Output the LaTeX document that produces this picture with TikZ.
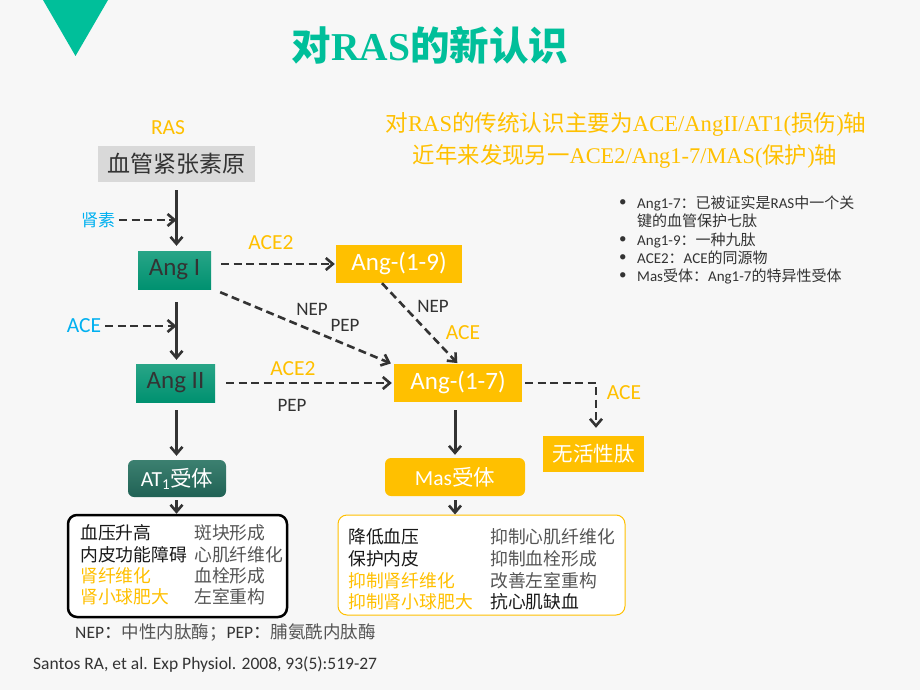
\documentclass[tikz,border=0pt]{standalone}
\usepackage{fontspec}
\setmainfont{Carlito}
\newfontfamily\zh{Noto Sans CJK SC}
\newfontfamily\sertxt{Liberation Serif}
\usetikzlibrary{arrows.meta}
\definecolor{teal1}{RGB}{0,191,154}
\definecolor{gold}{RGB}{255,192,0}
\definecolor{dk}{RGB}{51,51,51}
\definecolor{fxdk}{RGB}{25,25,25}
\definecolor{bgc}{RGB}{247,247,247}
\definecolor{blue1}{RGB}{0,176,240}
\definecolor{graybox}{RGB}{217,217,217}
\definecolor{angtop}{RGB}{40,165,135}
\definecolor{angbot}{RGB}{0,145,112}
\definecolor{attop}{RGB}{60,128,112}
\definecolor{atbot}{RGB}{32,98,85}
\definecolor{gtxt}{RGB}{85,85,85}
\newcommand\z[1]{{\zh #1}}
\newcommand\fs[1]{\fontsize{#1}{#1}\selectfont}
\begin{document}
\begin{tikzpicture}[x=1pt,y=-1pt,
  lbl/.style={inner sep=0pt, font=\fs{21.5}},
  gbox/.style={fill=gold, text=white, inner sep=0pt, font=\fs{25}},
  tbox/.style={top color=angtop, bottom color=angbot, text=dk, inner sep=0pt, font=\fs{25}},
  solidarr/.style={draw=dk, line width=3pt, -{Straight Barb[length=7pt,width=12pt,line width=2.6pt]}},
  dasharr/.style={draw=dk, line width=2.6pt, dash pattern=on 8pt off 4.5pt, -{Straight Barb[length=7pt,width=12pt,line width=2.6pt]}},
  fxcol/.style={inner sep=0pt, align=left, anchor=west, font=\fs{17.8}\zh, text=dk},
  bul/.style={inner sep=0pt, anchor=west, font=\fs{15}, text=dk}
]
\useasboundingbox (0,0) rectangle (920,690);
\fill[bgc] (0,0) rectangle (920,690);
\fill[teal1] (43,0) -- (108,0) -- (75.5,56) -- cycle;

% title
\node[inner sep=0pt, text=teal1, font=\fs{39.5}\bfseries] (title) at (430,45) {\z{对}{\sertxt RAS}\z{的新认识}};

% subtitle
\node[inner sep=0pt, text=gold, font=\fs{22.6}\sertxt] (sub1) at (626,124) {\z{对}RAS\z{的传统认识主要为}ACE/AngII/AT1(\z{损伤})\z{轴}};
\node[inner sep=0pt, text=gold, font=\fs{22.4}\sertxt] (sub2) at (625,156) {\z{近年来发现另一}ACE2/Ang1-7/MAS(\z{保护})\z{轴}};

% bullets
\node[bul] (d1) at (619,203) {•};
\node[bul] (b1) at (637,203) {Ang1-7\z{：已被证实是}RAS\z{中一个关}};
\node[bul] (b1b) at (637,221) {\z{键的血管保护七肽}};
\node[bul] (d2) at (619,240) {•};
\node[bul] (b2) at (637,240) {Ang1-9\z{：一种九肽}};
\node[bul] (d3) at (619,258) {•};
\node[bul] (b3) at (637,258) {ACE2\z{：}ACE\z{的同源物}};
\node[bul] (d4) at (619,276) {•};
\node[bul] (b4) at (637,276) {Mas\z{受体：}Ang1-7\z{的特异性受体}};

% main nodes
\node[lbl, text=gold] (ras) at (168,128) {RAS};
\node[fill=graybox, text=dk, inner sep=0pt, minimum width=157pt, minimum height=36pt, font=\fs{23}\zh] (ago) at (176.5,164) {血管紧张素原};
\node[tbox, minimum width=73pt, minimum height=38pt] (ang1) at (174.5,270) {Ang I};
\node[tbox, minimum width=79pt, minimum height=38pt] (ang2) at (175.5,383) {Ang II};
\node[gbox, minimum width=126pt, minimum height=38pt] (a19) at (399,264) {Ang-(1-9)};
\node[gbox, minimum width=128pt, minimum height=38pt] (a17) at (458,383) {Ang-(1-7)};
\node[gbox, minimum width=101pt, minimum height=36pt, font=\fs{20.5}\zh] (inact) at (593.5,454) {无活性肽};
\node[top color=attop, bottom color=atbot, rounded corners=6pt, text=white, inner sep=0pt, minimum width=98pt, minimum height=37pt, font=\fs{21.5}] (at1) at (177,478.5) {AT\textsubscript{1}\z{受体}};
\node[fill=gold, rounded corners=6pt, text=white, inner sep=0pt, minimum width=140pt, minimum height=38pt, font=\fs{21.5}] (mas) at (455,477) {Mas\z{受体}};

% labels
\node[inner sep=0pt, text=blue1, font=\fs{17}\zh] (renin) at (98,220) {肾素};
\node[lbl, text=blue1] (acel) at (84,326) {ACE};
\node[lbl, text=gold] (ace2a) at (271,243) {ACE2};
\node[lbl, text=dk, font=\fs{19}] (nep1) at (312,309) {NEP};
\node[lbl, text=dk, font=\fs{19}] (pep1) at (345,325) {PEP};
\node[lbl, text=gold] (ace2b) at (293,369) {ACE2};
\node[lbl, text=dk, font=\fs{19}] (pep2) at (292,405) {PEP};
\node[lbl, text=dk, font=\fs{19}] (nep2) at (433,306) {NEP};
\node[lbl, text=gold] (aceo) at (463,333) {ACE};
\node[lbl, text=gold] (ace3) at (624,393) {ACE};

% effect boxes
\node[draw=black, line width=2.5pt, fill=white, rounded corners=9pt, minimum width=219pt, minimum height=102pt, inner sep=0pt] (at1fx) at (177.5,566) {};
\node[draw=gold, line width=1pt, fill=white, rounded corners=9pt, minimum width=287pt, minimum height=100pt, inner sep=0pt] (masfx) at (481.5,565) {};

\node[fxcol, text=fxdk] (at1l) at (80,565) {血压升高\\[3.5pt]内皮功能障碍\\[3.5pt]\textcolor{gold}{肾纤维化}\\[3.5pt]\textcolor{gold}{肾小球肥大}};
\node[fxcol, text=gtxt] (at1r) at (194,565) {斑块形成\\[3.5pt]心肌纤维化\\[3.5pt]血栓形成\\[3.5pt]左室重构};
\node[fxcol, text=fxdk] (masl) at (348,569.5) {降低血压\\[3.9pt]保护内皮\\[3.9pt]\textcolor{gold}{抑制肾纤维化}\\[3.9pt]\textcolor{gold}{抑制肾小球肥大}};
\node[fxcol, text=gtxt] (masr) at (490,569.5) {抑制心肌纤维化\\[3.9pt]抑制血栓形成\\[3.9pt]改善左室重构\\[3.9pt]\textcolor{fxdk}{抗心肌缺血}};

% footnotes
\node[inner sep=0pt, anchor=west, text=dk, font=\fs{17.5}] (foot1) at (75,633) {NEP\z{：}\textcolor{gtxt}{\z{中性内肽酶；}}PEP\z{：}\textcolor{gtxt}{\z{脯氨酰内肽酶}}};
\node[inner sep=0pt, anchor=west, text=dk, font=\fs{17.5}] (foot2) at (33,665) {Santos RA, et al. Exp Physiol. 2008, 93(5):519-27};

% connectors
\draw[solidarr, shorten <=8pt, shorten >=5pt] (ago.south) -- (ago.south |- ang1.north);
\draw[dasharr, shorten <=4pt] (renin.east) -- (renin.east -| ago.south);
\draw[solidarr, shorten <=13pt, shorten >=4pt] (ang1.south -| ago.south) -- (ago.south |- ang2.north);
\draw[dasharr, shorten <=4pt] (acel.east) -- (acel.east -| ago.south);
\draw[dasharr, shorten <=10pt, shorten >=1pt] (ang1.east |- a19.west) -- (a19.west);
\draw[dasharr, shorten >=1pt] ([shift={(9,3)}]ang1.south east) -- ([shift={(-2,0)}]a17.north west);
\draw[dasharr, shorten <=11pt, shorten >=2pt] (ang2.east |- a17.west) -- (a17.west);
\draw[dasharr, shorten >=1pt] ([xshift=-17pt]a19.south) -- (a17.north);
\draw[dasharr, shorten <=3pt, shorten >=8pt] (a17.east) -| ([xshift=2.5pt]inact.north);
\draw[solidarr, shorten <=8pt, shorten >=3pt] (mas.north |- a17.south) -- (mas.north);
\draw[solidarr, shorten <=4pt] (mas.south) -- (mas.south |- masfx.north);
\draw[solidarr, shorten <=8pt, shorten >=4pt] (ang2.south -| ago.south) -- (ago.south |- at1.north);
\draw[solidarr, shorten <=3pt] (at1.south -| ago.south) -- (ago.south |- at1fx.north);
\end{tikzpicture}
\end{document}
